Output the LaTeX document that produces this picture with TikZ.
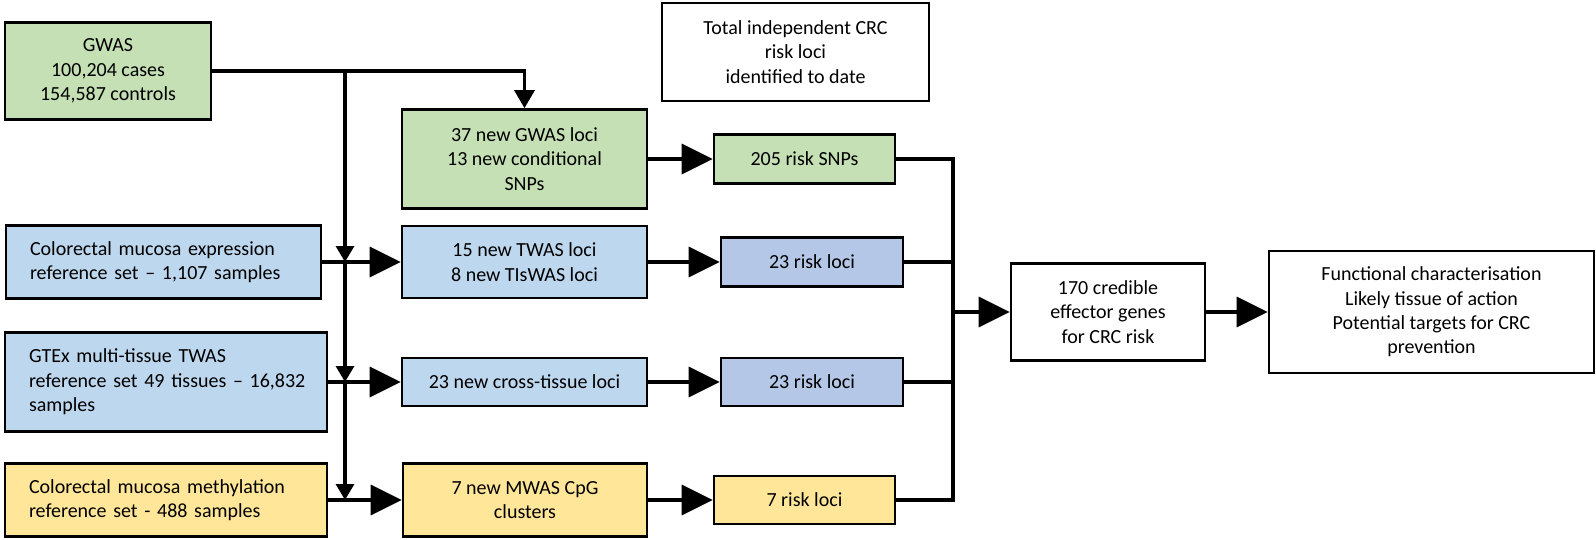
\documentclass[tikz,border=0pt]{standalone}
\usepackage{fontspec}
\setmainfont{Carlito}
\usetikzlibrary{arrows.meta}
\definecolor{gwasgreen}{HTML}{C5E0B4}
\definecolor{twasblue}{HTML}{BDD7EE}
\definecolor{lociblue}{HTML}{B4C7E7}
\definecolor{mwasyellow}{HTML}{FFE699}
\begin{document}
\begin{tikzpicture}[x=0.5pt,y=-0.5pt,
    box/.style={draw,line width=1.3pt,align=center,inner sep=0pt,font=\fontsize{10}{12.2}\selectfont},
    srcbox/.style={box,align=left,inner xsep=12pt},
    link/.style={line width=1.6pt},
    bigarrow/.style={link,-{Triangle[length=15.5pt,width=15pt]}},
    smallarrow/.style={link,-{Triangle[length=8pt,width=9pt]}}]
    \useasboundingbox (0,0) rectangle (1596,540);
    \node[box,fill=gwasgreen,minimum width=103pt,minimum height=48.5pt] (gwas) at (108,71) {GWAS\\100,204 cases\\154,587 controls};
    \node[box,minimum width=133.5pt,minimum height=49pt] (total) at (795.5,52) {Total independent CRC\\risk loci\\identified to date};
    \node[box,fill=gwasgreen,minimum width=122.5pt,minimum height=49.5pt] (gwasnew) at (524.5,159) {37 new GWAS loci\\13 new conditional\\SNPs};
    \node[box,fill=gwasgreen,minimum width=90.5pt,minimum height=24.5pt] (snps) at (804.5,159) {205 risk SNPs};
    \node[srcbox,fill=twasblue,text width=133.5pt,minimum height=36.5pt] (expr) at (163.5,262) {Colorectal mucosa expression\\\mbox{reference set – 1,107 samples}};
    \node[box,fill=twasblue,minimum width=122.5pt,minimum height=36pt] (twas) at (524.5,262) {15 new TWAS loci\\8 new TIsWAS loci};
    \node[box,fill=lociblue,minimum width=91pt,minimum height=24.5pt] (risk1) at (812,262) {23 risk loci};
    \node[srcbox,fill=twasblue,text width=137pt,minimum height=49.5pt] (gtex) at (166,382) {GTEx multi-tissue TWAS\\\mbox{reference set 49 tissues – 16,832}\\samples};
    \node[box,fill=twasblue,minimum width=122.5pt,minimum height=24pt] (cross) at (524.5,382) {23 new cross-tissue loci};
    \node[box,fill=lociblue,minimum width=91pt,minimum height=24pt] (risk2) at (812,382) {23 risk loci};
    \node[srcbox,fill=mwasyellow,text width=137pt,minimum height=36.5pt] (meth) at (166,500) {Colorectal mucosa methylation\\reference set - 488 samples};
    \node[box,fill=mwasyellow,minimum width=122pt,minimum height=36.5pt] (mwas) at (525,500) {7 new MWAS CpG\\clusters};
    \node[box,fill=mwasyellow,minimum width=90.5pt,minimum height=24pt] (risk3) at (804.5,500) {7 risk loci};
    \node[box,minimum width=97pt,minimum height=48.5pt] (genes) at (1108,312) {170 credible\\effector genes\\for CRC risk};
    \node[box,minimum width=162.5pt,minimum height=61pt] (func) at (1431.5,312) {Functional characterisation\\Likely tissue of action\\Potential targets for CRC\\prevention};
    \coordinate (trunk) at (345,0);
    \coordinate (col) at (953,312);
    \draw[link,-{Triangle[length=9pt,width=10pt]}] (gwas.east) -| (gwasnew.north);
    \draw[smallarrow] (gwas.east -| trunk) -- (expr.east -| trunk);
    \draw[smallarrow] (expr.east -| trunk) -- (gtex.east -| trunk);
    \draw[smallarrow] (gtex.east -| trunk) -- (meth.east -| trunk);
    \foreach \a/\b in {expr/twas,gtex/cross,meth/mwas,gwasnew/snps,twas/risk1,cross/risk2,mwas/risk3}
    \draw[bigarrow] (\a.east) -- (\b.west);
    \draw[link] (snps.east) -| (col) |- (risk3.east);
    \draw[link] (risk1.east) -- (risk1.east -| col);
    \draw[link] (risk2.east) -- (risk2.east -| col);
    \draw[bigarrow] (col) -- (genes.west);
    \draw[bigarrow] (genes.east) -- (func.west);
\end{tikzpicture}
\end{document}
